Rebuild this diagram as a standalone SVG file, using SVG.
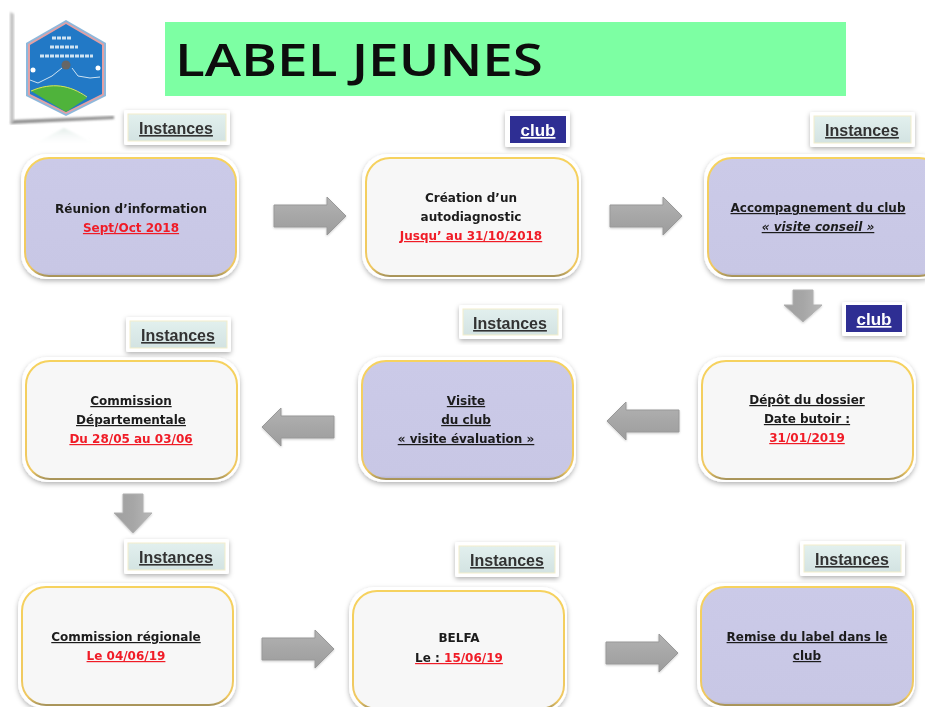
<svg xmlns="http://www.w3.org/2000/svg" width="925" height="707" viewBox="0 0 925 707">
<style>
text{font-family:"DejaVu Sans","Liberation Sans",sans-serif;text-anchor:middle}
.n{fill:#f7f7f7;stroke:url(#edge);stroke-width:2}
.p{fill:url(#pf);stroke:url(#edge);stroke-width:2}
.o{fill:#fff;filter:url(#sh)}
.t{font-size:12px;font-weight:bold;fill:#1b1b1b;text-decoration:underline}
.t0{text-decoration:none}
.r{font-size:12px;font-weight:bold;fill:#f01c28;text-decoration:underline}
.i{font-size:16px;font-weight:bold;fill:#333;text-decoration:underline;font-family:"Liberation Sans",sans-serif}
.c{font-size:17px;font-weight:bold;fill:#fff;text-decoration:underline;font-family:"Liberation Sans",sans-serif}
.ib{fill:url(#if);stroke:#f3eecb;stroke-width:1}
.cb{fill:#2f2f93}
.a{fill:url(#af);stroke:#999;stroke-width:1;filter:url(#ash)}
.d{fill:url(#df);stroke:#b0b0b0;stroke-width:1;filter:url(#ash)}
</style>
<defs>
<linearGradient id="edge" x1="0" y1="0" x2="0" y2="1"><stop offset="0" stop-color="#f6d25e"/><stop offset=".93" stop-color="#efc862"/><stop offset="1" stop-color="#a8945a"/></linearGradient>
<linearGradient id="pf" x1="0" y1="0" x2="0" y2="1"><stop offset="0" stop-color="#cbcae8"/><stop offset=".97" stop-color="#c8c7e5"/><stop offset="1" stop-color="#b4b3d2"/></linearGradient>
<linearGradient id="if" x1="0" y1="0" x2="0" y2="1"><stop offset="0" stop-color="#e2f0ee"/><stop offset="1" stop-color="#d3e3e2"/></linearGradient>
<linearGradient id="af" x1="0" y1="0" x2="0" y2="1"><stop offset="0" stop-color="#b2b2b2"/><stop offset="1" stop-color="#9c9c9c"/></linearGradient>
<linearGradient id="df" x1="0" y1="0" x2="1" y2="0"><stop offset="0" stop-color="#a0a0a0"/><stop offset=".5" stop-color="#a6a6a6"/><stop offset="1" stop-color="#b8b8b8"/></linearGradient>
<linearGradient id="rf" x1="0" y1="0" x2="0" y2="1"><stop offset="0" stop-color="#cfe0da" stop-opacity=".6"/><stop offset="1" stop-color="#fff" stop-opacity="0"/></linearGradient>
<filter id="sh" x="-10%" y="-10%" width="120%" height="125%"><feDropShadow dx="0" dy="2" stdDeviation="2.5" flood-color="#000" flood-opacity=".3"/></filter>
<filter id="ash" x="-10%" y="-10%" width="120%" height="125%"><feDropShadow dx="0" dy="1" stdDeviation="1" flood-color="#000" flood-opacity=".2"/></filter>
<filter id="b"><feGaussianBlur stdDeviation="0.5"/></filter>
<filter id="b2"><feGaussianBlur stdDeviation="1.2"/></filter>
<path id="ar" class="a" d="M0 -11H53V-19L72 0L53 19V11H0Z"/>
<path id="ad" class="d" d="M-10 0H10V15H19L0 32L-19 15H-10Z"/>
<path id="ad2" class="d" d="M-10 0H10V19H19L0 39L-19 19H-10Z"/>
</defs>
<rect width="925" height="707" fill="#fff"/>
<g filter="url(#b)">
<g id="logo">
<path d="M10 124L12 16L114 12L114 119Z" fill="#fff"/>
<path d="M14 14L10 12V124L14 121Z" fill="#c4c4c4" filter="url(#b2)"/>
<path d="M10 124L14 120L114 116L114 119Z" fill="#8f8f8f" filter="url(#b2)"/>
<path d="M30 146L64 128L100 146Z" fill="url(#rf)" filter="url(#b2)"/>
<path d="M66 20L106 43V96L66 116L26 96V43Z" fill="#8db8dc"/>
<path d="M66 22L104 44V95L66 114L28 95V44Z" fill="#e3a0a4"/>
<path d="M66 24L102 45V94L66 112L30 94V45Z" fill="#2079c6"/>
<path d="M31 91C52 81 72 85 87 98L66 112Z" fill="#4fb33a"/>
<path d="M31 91C52 82 70 85 87 97" fill="none" stroke="#d8e65a" stroke-width="1"/>
<path d="M30 80L38 83L52 76L62 68M72 68L78 76L90 78L100 77" fill="none" stroke="#cfe3f2"/>
<circle cx="66" cy="65" r="4.5" fill="#666"/>
<circle cx="33" cy="70" r="2.5" fill="#fff"/><circle cx="98" cy="68" r="2.5" fill="#fff"/>
<path d="M52 38H72M50 47H78M40 56H93" fill="none" stroke="#cfe3f2" stroke-width="3" stroke-dasharray="4 1" filter="url(#b)"/>
</g>
<g id="title">
<rect x="165" y="22" width="681" height="74" fill="#7dffa3"/>
<text x="359" y="76" font-size="46" textLength="368" lengthAdjust="spacingAndGlyphs" style="font-family:'Open Sans',sans-serif;font-weight:600" fill="#0a0a0a">LABEL JEUNES</text>
</g>
<g id="connectors">
<use href="#ar" x="274" y="216"/>
<use href="#ar" x="610" y="216"/>
<use href="#ad" x="803" y="290"/>
<g transform="translate(679 421) scale(-1 1)"><use href="#ar"/></g>
<g transform="translate(334 427) scale(-1 1)"><use href="#ar"/></g>
<use href="#ad2" x="133" y="494"/>
<use href="#ar" x="262" y="649"/>
<use href="#ar" x="606" y="653"/>
</g>
<g id="node1"><rect class="o" x="21" y="154" width="218" height="125" rx="25"/><rect class="p" x="25" y="158" width="211" height="118" rx="24"/><text class="t t0" x="131" y="213">Réunion d’information</text><text class="r" x="131" y="232">Sept/Oct 2018</text></g>
<g id="node2"><rect class="o" x="362" y="154" width="219" height="125" rx="25"/><rect class="n" x="366" y="158" width="212" height="118" rx="24"/><text class="t t0" x="471" y="202">Création d’un</text><text class="t t0" x="471" y="221">autodiagnostic</text><text class="r" x="471" y="240">Jusqu’ au 31/10/2018</text></g>
<g id="node3"><rect class="o" x="704" y="154" width="240" height="125" rx="25"/><rect class="p" x="708" y="158" width="235" height="118" rx="24"/><text class="t" x="818" y="212">Accompagnement du club</text><text class="t" x="818" y="231" font-style="italic">« visite conseil »</text></g>
<g id="node4"><rect class="o" x="698" y="357" width="218" height="125" rx="25"/><rect class="n" x="702" y="361" width="211" height="118" rx="24"/><text class="t" x="807" y="404">Dépôt du dossier</text><text class="t" x="807" y="423">Date butoir :</text><text class="r" x="807" y="442">31/01/2019</text></g>
<g id="node5"><rect class="o" x="358" y="357" width="218" height="125" rx="25"/><rect class="p" x="362" y="361" width="211" height="118" rx="24"/><text class="t" x="466" y="405">Visite</text><text class="t" x="466" y="424">du club</text><text class="t" x="466" y="443">« visite évaluation »</text></g>
<g id="node6"><rect class="o" x="22" y="357" width="218" height="125" rx="25"/><rect class="n" x="26" y="361" width="211" height="118" rx="24"/><text class="t" x="131" y="405">Commission</text><text class="t" x="131" y="424">Départementale</text><text class="r" x="131" y="443">Du 28/05 au 03/06</text></g>
<g id="node7"><rect class="o" x="18" y="583" width="218" height="125" rx="25"/><rect class="n" x="22" y="587" width="211" height="118" rx="24"/><text class="t" x="126" y="641">Commission régionale</text><text class="r" x="126" y="660">Le 04/06/19</text></g>
<g id="node8"><rect class="o" x="349" y="587" width="218" height="125" rx="25"/><rect class="n" x="353" y="591" width="211" height="118" rx="24"/><text class="t t0" x="459" y="642">BELFA</text><text class="r" x="459" y="662"><tspan fill="#1b1b1b">Le : </tspan>15/06/19</text></g>
<g id="node9"><rect class="o" x="697" y="583" width="218" height="125" rx="25"/><rect class="p" x="701" y="587" width="212" height="118" rx="24"/><text class="t" x="807" y="641">Remise du label dans le</text><text class="t" x="807" y="660">club</text></g>
<g id="tag1"><rect class="o" x="124" y="110" width="106" height="35" rx="2"/><rect class="ib" x="128" y="114" width="98" height="27"/><text class="i" x="176" y="134">Instances</text></g>
<g id="tag2"><rect class="o" x="505" y="111" width="65" height="36" rx="2"/><rect class="cb" x="510" y="116" width="56" height="27"/><text class="c" x="538" y="136">club</text></g>
<g id="tag3"><rect class="o" x="810" y="112" width="105" height="35" rx="2"/><rect class="ib" x="814" y="116" width="97" height="27"/><text class="i" x="862" y="136">Instances</text></g>
<g id="tag4"><rect class="o" x="842" y="302" width="64" height="34" rx="2"/><rect class="cb" x="846" y="305" width="56" height="27"/><text class="c" x="874" y="325">club</text></g>
<g id="tag5"><rect class="o" x="126" y="317" width="105" height="35" rx="2"/><rect class="ib" x="130" y="321" width="97" height="27"/><text class="i" x="178" y="341">Instances</text></g>
<g id="tag6"><rect class="o" x="459" y="305" width="103" height="34" rx="2"/><rect class="ib" x="463" y="309" width="95" height="26"/><text class="i" x="510" y="329">Instances</text></g>
<g id="tag7"><rect class="o" x="124" y="539" width="105" height="35" rx="2"/><rect class="ib" x="128" y="543" width="97" height="27"/><text class="i" x="176" y="563">Instances</text></g>
<g id="tag8"><rect class="o" x="455" y="542" width="104" height="35" rx="2"/><rect class="ib" x="459" y="546" width="96" height="27"/><text class="i" x="507" y="566">Instances</text></g>
<g id="tag9"><rect class="o" x="800" y="541" width="105" height="35" rx="2"/><rect class="ib" x="804" y="545" width="97" height="27"/><text class="i" x="852" y="565">Instances</text></g>
</g>
</svg>
